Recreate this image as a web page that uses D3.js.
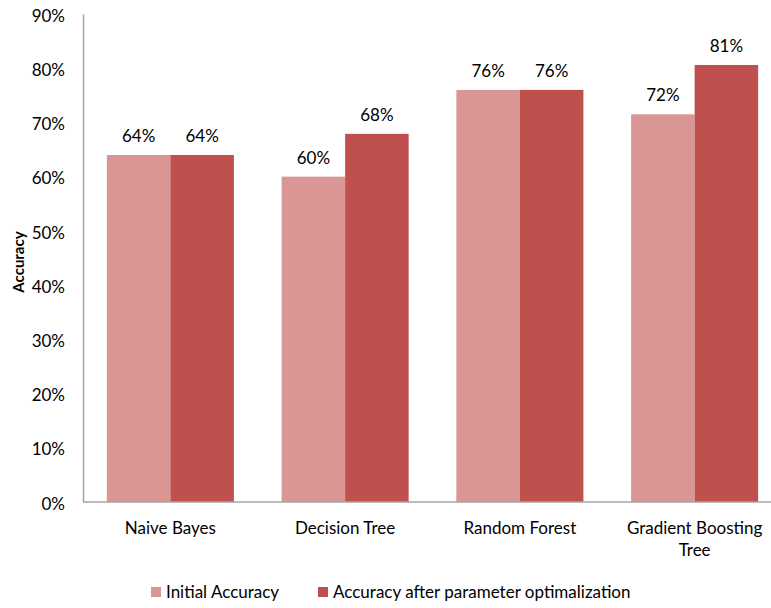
<!DOCTYPE html>
<html>
<head>
<meta charset="utf-8">
<script src="https://cdn.jsdelivr.net/npm/d3@7"></script>
<style>
  html, body { margin: 0; padding: 0; background: #fff; }
  svg text { font-family: Lato, "Open Sans", sans-serif; fill: #000; }
</style>
</head>
<body>
<svg id="chart" width="771" height="608"></svg>
<script>
const categories = ["Naive Bayes", "Decision Tree", "Random Forest", "Gradient Boosting Tree"];
const seriesNames = ["Initial Accuracy", "Accuracy after parameter optimalization"];
const initialAccuracy = [64.0, 60.0, 76.0, 71.5];
const optimizedAccuracy = [64.0, 67.9, 76.0, 80.6];
const yTicks = [0, 10, 20, 30, 40, 50, 60, 70, 80, 90];
const colors = ["#D99694", "#C0504D"];

const svg = d3.select("#chart");
const mLeft = 83, mRight = 782, mTop = 14, mBottom = 502;
const fs = "17px";

const x = d3.scaleBand().domain(categories).range([mLeft, mRight])
  .paddingInner(0.273).paddingOuter(0.1365);
const xs = d3.scaleBand().domain([0, 1]).range([0, x.bandwidth()]);
const y = d3.scaleLinear().domain([0, 90]).range([mBottom, mTop]);

const data = categories.map((c, i) => ({ cat: c, vals: [initialAccuracy[i], optimizedAccuracy[i]] }));

// bars
const g = svg.append("g");
data.forEach(d => {
  d.vals.forEach((v, s) => {
    g.append("rect")
      .attr("x", x(d.cat) + xs(s))
      .attr("y", y(v))
      .attr("width", xs.bandwidth())
      .attr("height", y(0) - y(v))
      .attr("fill", colors[s]);
    g.append("text")
      .attr("x", x(d.cat) + xs(s) + xs.bandwidth() / 2)
      .attr("y", y(v) - 13)
      .attr("text-anchor", "middle")
      .style("font-size", fs)
      .text(Math.round(v) + "%");
  });
});

// y axis
const yAxis = d3.axisLeft(y).tickValues(yTicks).tickSize(0).tickPadding(18)
  .tickFormat(d => d + "%");
const ya = svg.append("g").attr("transform", `translate(${mLeft},0)`).call(yAxis);
ya.select(".domain").attr("stroke", "#A6A6A6").attr("stroke-width", 1.5);
ya.selectAll("text").style("font-size", fs).attr("dy", "0.42em")
  .style("font-family", "Lato, 'Open Sans', sans-serif").attr("fill", "#000");

// x axis
const xAxis = d3.axisBottom(x).tickSize(0).tickFormat("");
const xa = svg.append("g").attr("transform", `translate(0,${mBottom})`).call(xAxis);
xa.select(".domain").attr("stroke", "#A6A6A6").attr("stroke-width", 1.5)
  .attr("d", `M${mLeft},0H771`);

// category labels (wrapped)
const wrapLabels = { "Gradient Boosting Tree": ["Gradient Boosting", "Tree"] };
categories.forEach(c => {
  const lines = wrapLabels[c] || [c];
  const t = svg.append("text")
    .attr("x", x(c) + x.bandwidth() / 2)
    .attr("y", 534)
    .attr("text-anchor", "middle")
    .style("font-size", fs);
  lines.forEach((l, i) => {
    t.append("tspan").attr("x", x(c) + x.bandwidth() / 2).attr("dy", i === 0 ? 0 : 22).text(l);
  });
});

// y title
svg.append("text")
  .attr("transform", "translate(24,262) rotate(-90)")
  .attr("text-anchor", "middle")
  .style("font-size", "15px")
  .style("font-weight", "bold")
  .text("Accuracy");

// legend
const legendX = [151, 318];
seriesNames.forEach((n, i) => {
  svg.append("rect").attr("x", legendX[i]).attr("y", 587).attr("width", 10).attr("height", 10)
    .attr("fill", colors[i]);
  svg.append("text").attr("x", legendX[i] + 15).attr("y", 598)
    .style("font-size", fs).text(n);
});
</script>
</body>
</html>
